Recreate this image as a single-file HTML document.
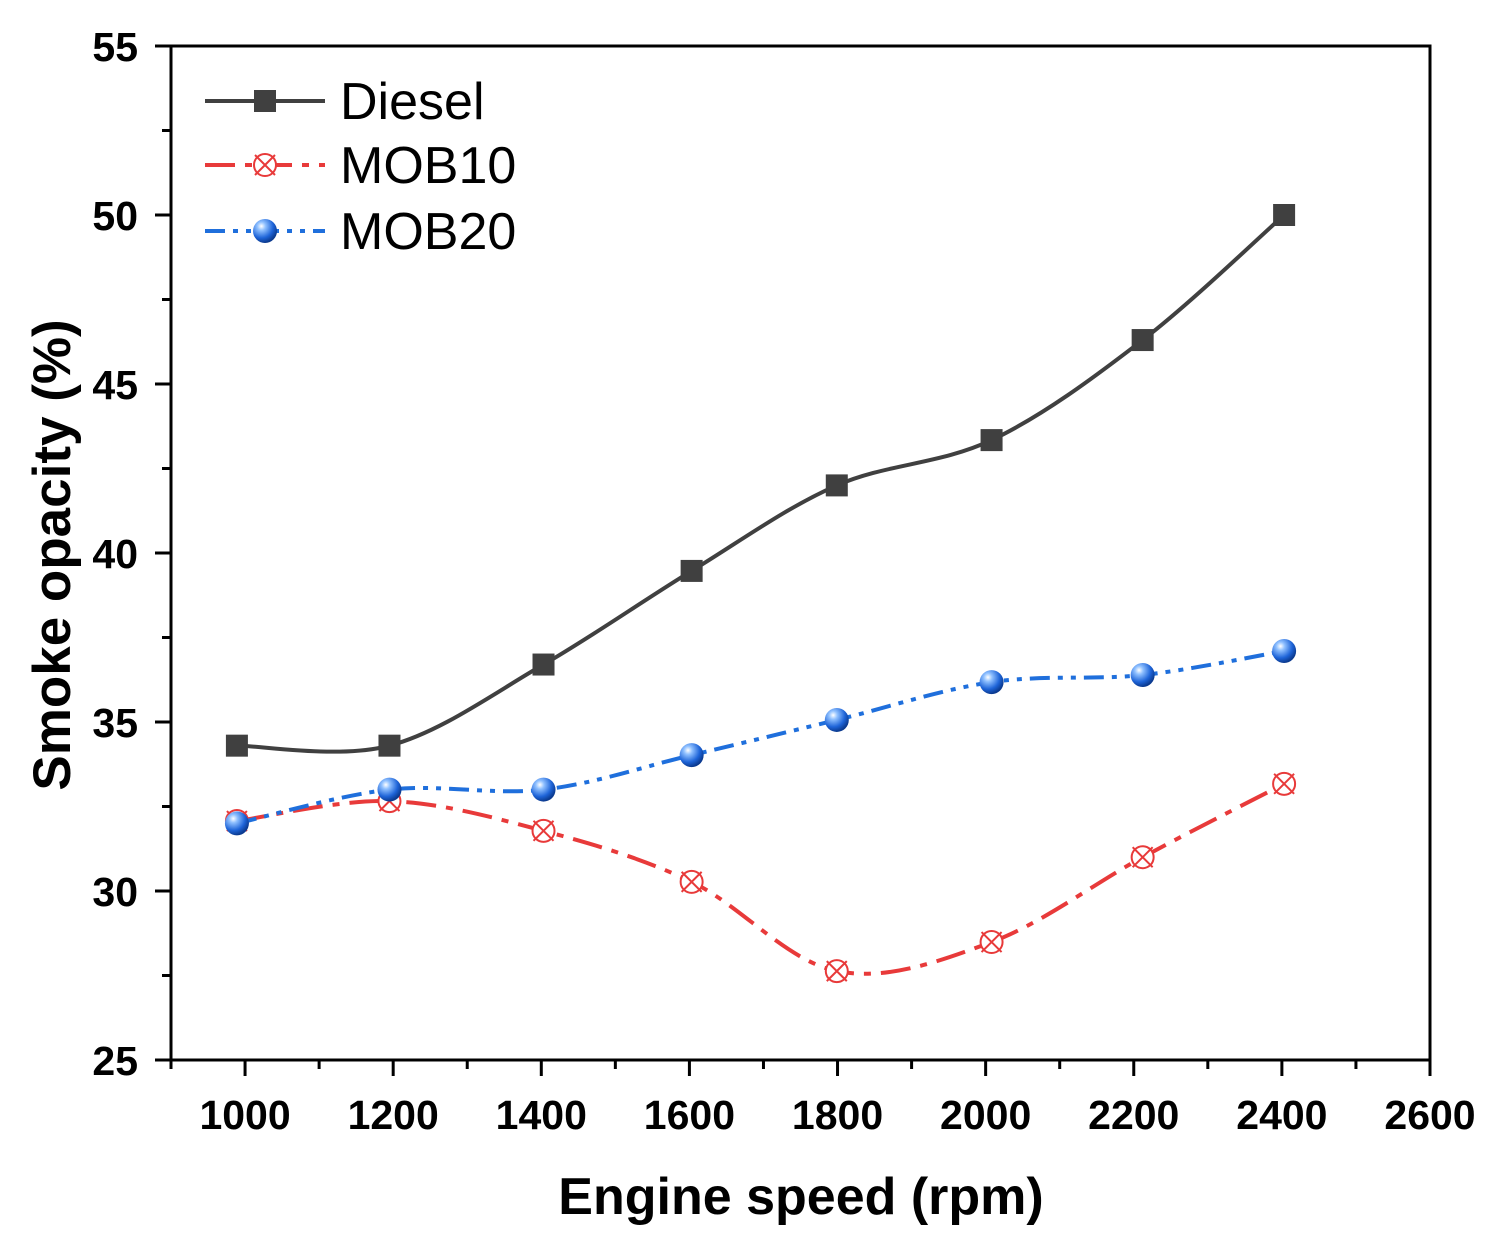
<!DOCTYPE html>
<html><head><meta charset="utf-8"><style>
body{margin:0;background:#fff}
svg text{font-family:"Liberation Sans",Arial,sans-serif}
</style></head><body>
<svg id="chart" width="1501" height="1240" xmlns="http://www.w3.org/2000/svg">
<defs>
<radialGradient id="ball" cx="0.35" cy="0.3" r="0.7">
<stop offset="0" stop-color="#ffffff"/><stop offset="0.25" stop-color="#8fc0ff"/><stop offset="0.7" stop-color="#1e64d8"/><stop offset="1" stop-color="#0b3a8f"/>
</radialGradient>
</defs>
<g id="axes"></g>
<g id="series"></g>
<g id="legend"></g>
</svg>
<script>
const xTicks=[1000,1200,1400,1600,1800,2000,2200,2400,2600];
const yTicks=[25,30,35,40,45,50,55];
const rpm=[989,1195,1403,1603,1799,2008,2212,2403];
const diesel=[34.3,34.3,36.7,39.47,42.0,43.34,46.3,50.0];
const mob10=[32.07,32.66,31.78,30.27,27.63,28.49,31.0,33.17];
const mob20=[32.0,33.0,33.0,34.02,35.06,36.18,36.39,37.1];
const seriesNames=["Diesel","MOB10","MOB20"];

const L=171,R=1430,T=46,B=1060,X0=900,X1=2600,Y0=25,Y1=55;
const sx=v=>L+(v-X0)/(X1-X0)*(R-L);
const sy=v=>B-(v-Y0)/(Y1-Y0)*(B-T);
const NS="http://www.w3.org/2000/svg";
function mk(tag,attrs,parent){const e=document.createElementNS(NS,tag);for(const k in attrs)e.setAttribute(k,attrs[k]);parent.appendChild(e);return e;}
const axes=document.getElementById('axes'),ser=document.getElementById('series'),leg=document.getElementById('legend');

let f=mk('rect',{x:L,y:T,width:R-L,height:B-T,fill:'none',stroke:'#000','stroke-width':3},axes);

for(let v=X0;v<=X1;v+=100){const maj=v%200===0;
 const t=mk('line',{x1:sx(v),x2:sx(v),y1:B,y2:B+(maj?16:9),stroke:'#000','stroke-width':3},axes);
 }
xTicks.forEach(v=>{const t=mk('text',{x:sx(v),y:B+69,'text-anchor':'middle','font-size':41,'font-weight':'bold'},axes);t.textContent=v;
 });
for(let v=Y0;v<=Y1;v+=2.5){const maj=v%5===0;
 const t=mk('line',{x1:L,x2:L-(maj?16:9),y1:sy(v),y2:sy(v),stroke:'#000','stroke-width':3},axes);
 }
yTicks.forEach(v=>{const t=mk('text',{x:138,y:sy(v)+15,'text-anchor':'end','font-size':41,'font-weight':'bold'},axes);t.textContent=v;
 });
let xt=mk('text',{x:801,y:1214,'text-anchor':'middle','font-size':52,'font-weight':'bold'},axes);xt.textContent='Engine speed (rpm)';

let yt=mk('text',{x:0,y:0,'text-anchor':'middle','font-size':53,'font-weight':'bold',transform:'translate(70,555) rotate(-90)'},axes);yt.textContent='Smoke opacity (%)';


function spline(ys){const p=rpm.map((x,i)=>[sx(x),sy(ys[i])]);let d=`M${p[0][0]},${p[0][1]}`;
 for(let i=0;i<p.length-1;i++){const a=p[i-1]||p[i],b=p[i],c=p[i+1],e=p[i+2]||c;
  d+=` C${b[0]+(c[0]-a[0])/6},${b[1]+(c[1]-a[1])/6} ${c[0]-(e[0]-b[0])/6},${c[1]-(e[1]-b[1])/6} ${c[0]},${c[1]}`;}return d;}
const styles=[{c:'#404040',dash:'',w:4},{c:'#e83a3a',dash:'30 10 7 10',w:4},{c:'#1f6fdc',dash:'20 8 5 8 5 8',w:4}];
function marker(k,x,y,g){
 if(k===0){mk('rect',{x:x-11,y:y-11,width:22,height:22,fill:'#404040'},g);}
 else if(k===1){mk('circle',{cx:x,cy:y,r:11,fill:'#fff',stroke:'#e83a3a','stroke-width':2},g);
  mk('path',{d:`M${x-10},${y-10}L${x+10},${y+10}M${x-10},${y+10}L${x+10},${y-10}`,stroke:'#e83a3a','stroke-width':2},g);}
 else{mk('circle',{cx:x,cy:y,r:12,fill:'url(#ball)'},g);}
}
[diesel,mob10,mob20].forEach((ys,k)=>{
 const g=mk('g',{},ser);
 const p=mk('path',{d:spline(ys),fill:'none',stroke:styles[k].c,'stroke-width':styles[k].w,'stroke-dasharray':styles[k].dash},g);
 
 ys.forEach((v,i)=>{const m=mk('g',{},g);marker(k,sx(rpm[i]),sy(v),m);});
 const ly=[101,165,231][k];const lg=mk('g',{},leg);
 mk('line',{x1:205,x2:325,y1:ly,y2:ly,stroke:styles[k].c,'stroke-width':4,'stroke-dasharray':styles[k].dash},lg);
 marker(k,265,ly,lg);
 const t=mk('text',{x:340,y:ly+18,'font-size':52},lg);t.textContent=seriesNames[k];
});
</script>
</body></html>
